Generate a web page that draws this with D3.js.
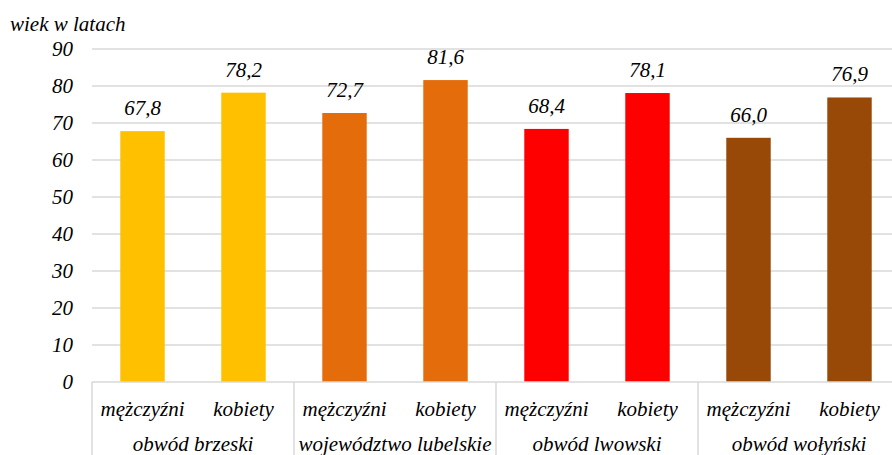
<!DOCTYPE html>
<html>
<head>
<meta charset="utf-8">
<script src="https://cdn.jsdelivr.net/npm/d3@7"></script>
<style>
  body { margin: 0; background: #fff; }
</style>
</head>
<body>
<script>
// data
var groups = ["obwód brzeski", "województwo lubelskie", "obwód lwowski", "obwód wołyński"];
var sexes = ["mężczyźni", "kobiety"];
var values = [67.8, 78.2, 72.7, 81.6, 68.4, 78.1, 66.0, 76.9];
var groupColors = ["#FFC000", "#E46C0A", "#FF0000", "#984807"];
var yTicks = [0, 10, 20, 30, 40, 50, 60, 70, 80, 90];

var width = 892, height = 455;
var plotLeft = 92, plotRight = 900, plotTop = 49, plotBottom = 382;
var fontSize = "21px";

var svg = d3.select("body").append("svg")
    .attr("width", width)
    .attr("height", height);

// all labels share the same italic serif look
function styleText(sel) {
  sel.attr("font-family", null)
     .style("font-family", "'Liberation Serif'")
     .style("font-style", "italic")
     .style("font-size", fontSize)
     .attr("fill", "#000");
}

var cats = [];
groups.forEach(function(g, gi) {
  sexes.forEach(function(s, si) {
    cats.push({ group: g, gi: gi, sex: s, key: g + "|" + s, value: values[gi * 2 + si] });
  });
});

var x = d3.scaleBand()
    .domain(cats.map(function(d) { return d.key; }))
    .range([plotLeft, plotRight])
    .paddingInner(0.56)
    .paddingOuter(0.28);

var y = d3.scaleLinear().domain([0, 90]).range([plotBottom, plotTop]);

// gridlines
svg.append("g").selectAll("line")
    .data(yTicks.slice(1))
    .enter().append("line")
    .attr("x1", plotLeft).attr("x2", plotRight)
    .attr("y1", function(d) { return y(d); })
    .attr("y2", function(d) { return y(d); })
    .attr("stroke", "#d9d9d9")
    .attr("stroke-width", 1.5);

// y axis labels
var yAxis = svg.append("g")
    .attr("transform", "translate(" + plotLeft + ",0)")
    .call(d3.axisLeft(y).tickValues(yTicks).tickSize(0).tickPadding(19).tickFormat(d3.format("d")));
yAxis.attr("font-family", null);
yAxis.select(".domain").remove();
yAxis.selectAll("text").call(styleText);

svg.append("text")
    .attr("x", 10).attr("y", 31)
    .call(styleText)
    .text("wiek w latach");

// bars
svg.append("g").selectAll("rect")
    .data(cats)
    .enter().append("rect")
    .attr("x", function(d) { return x(d.key); })
    .attr("width", x.bandwidth())
    .attr("y", function(d) { return y(d.value); })
    .attr("height", function(d) { return y(0) - y(d.value); })
    .attr("fill", function(d) { return groupColors[d.gi]; });

// value labels
svg.append("g").selectAll("text")
    .data(cats)
    .enter().append("text")
    .attr("x", function(d) { return x(d.key) + x.bandwidth() / 2; })
    .attr("y", function(d) { return y(d.value) - 16; })
    .attr("text-anchor", "middle")
    .call(styleText)
    .text(function(d) { return d3.format(".1f")(d.value).replace(".", ","); });

// category axis box
var step = x.step();
svg.append("line")
    .attr("x1", plotLeft).attr("x2", plotRight)
    .attr("y1", plotBottom).attr("y2", plotBottom)
    .attr("stroke", "#d9d9d9").attr("stroke-width", 1.5);

svg.append("g").selectAll("line")
    .data(d3.range(groups.length + 1))
    .enter().append("line")
    .attr("x1", function(i) { return plotLeft + i * 2 * step; })
    .attr("x2", function(i) { return plotLeft + i * 2 * step; })
    .attr("y1", plotBottom).attr("y2", height)
    .attr("stroke", "#d9d9d9").attr("stroke-width", 1.5);

svg.append("g").selectAll("text")
    .data(cats)
    .enter().append("text")
    .attr("x", function(d) { return x(d.key) + x.bandwidth() / 2; })
    .attr("y", 416)
    .attr("text-anchor", "middle")
    .call(styleText)
    .text(function(d) { return d.sex; });

svg.append("g").selectAll("text")
    .data(groups)
    .enter().append("text")
    .attr("x", function(g, i) { return plotLeft + (i * 2 + 1) * step; })
    .attr("y", 451)
    .attr("text-anchor", "middle")
    .call(styleText)
    .text(function(g) { return g; });
</script>
</body>
</html>
